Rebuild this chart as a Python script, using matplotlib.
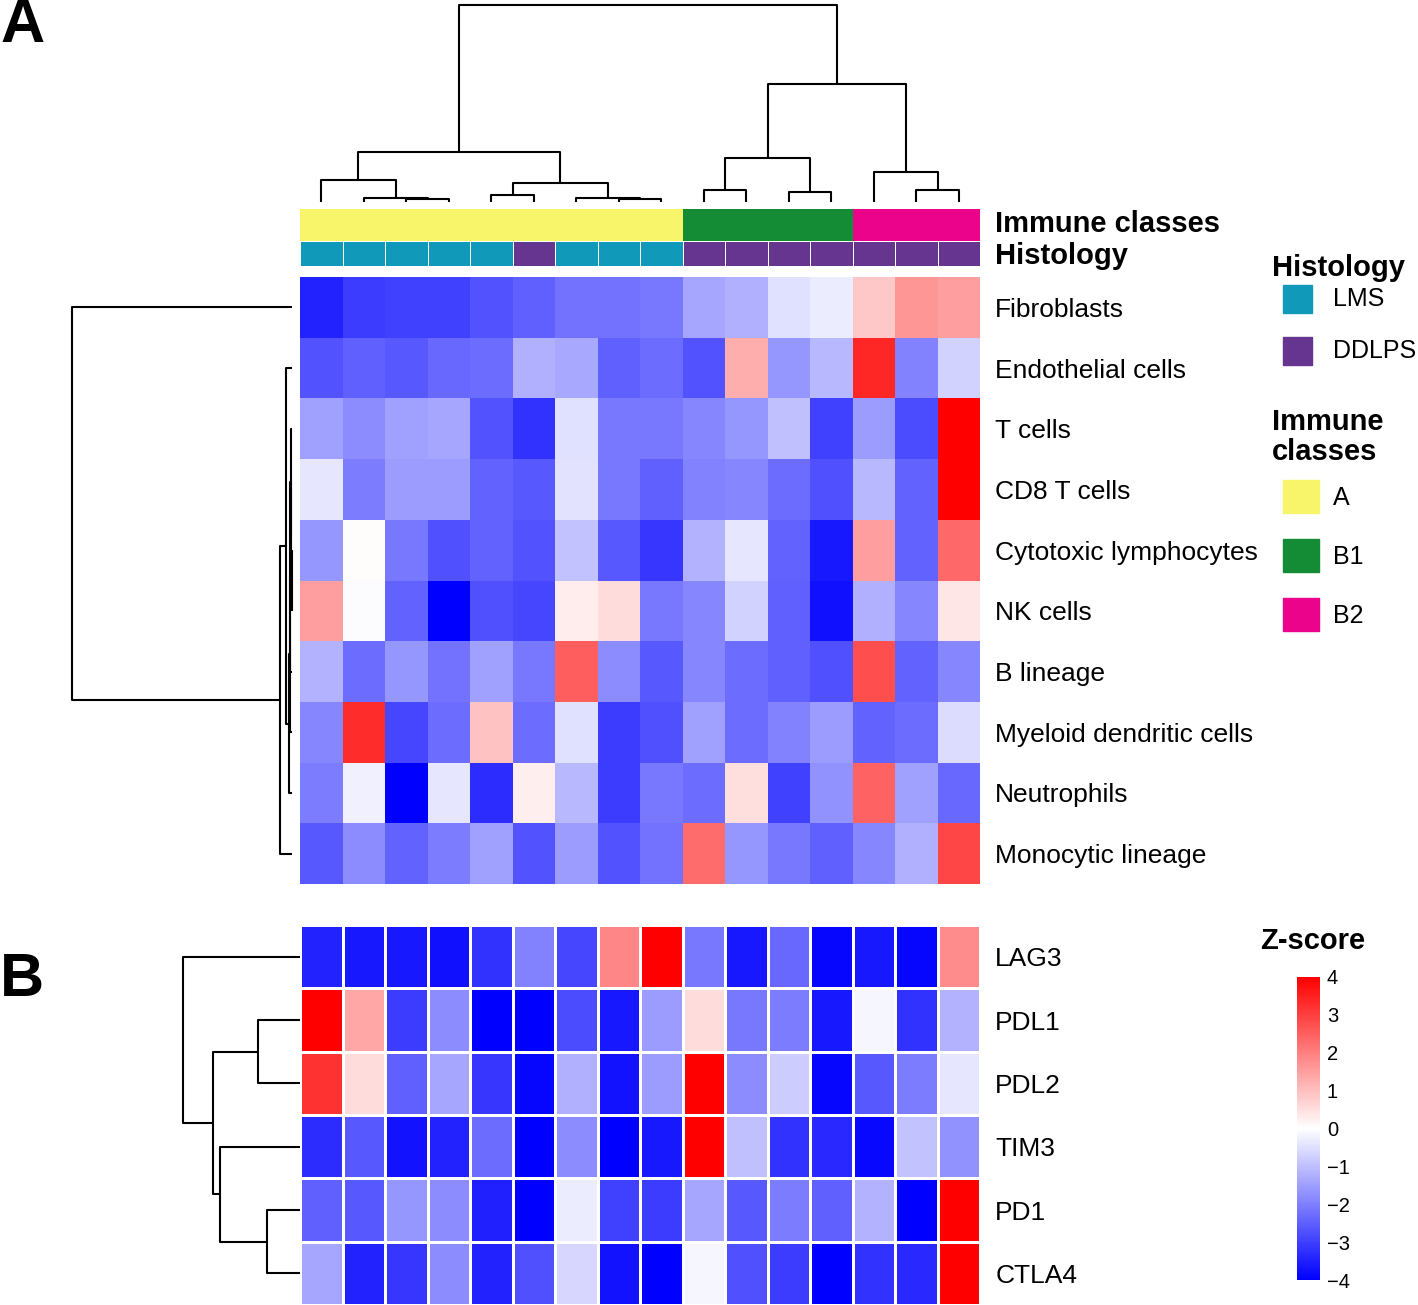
import numpy as np
import matplotlib
matplotlib.use("Agg")
import matplotlib.pyplot as plt
from matplotlib.colors import LinearSegmentedColormap, ListedColormap
from matplotlib.patches import Rectangle

plt.rcParams['font.family'] = ['Liberation Sans', 'DejaVu Sans']

W, H = 1418, 1305

# ---- data -------------------------------------------------------------
cell_types = ["Fibroblasts", "Endothelial cells", "T cells", "CD8 T cells",
              "Cytotoxic lymphocytes", "NK cells", "B lineage",
              "Myeloid dendritic cells", "Neutrophils", "Monocytic lineage"]
checkpoints = ["LAG3", "PDL1", "PDL2", "TIM3", "PD1", "CTLA4"]

immune_class = ["A"] * 9 + ["B1"] * 4 + ["B2"] * 3
histology = ["LMS"] * 5 + ["DDLPS"] + ["LMS"] * 3 + ["DDLPS"] * 7

hist_levels = ["LMS", "DDLPS"]
hist_colors = ["#1199B9", "#66358F"]
immune_levels = ["A", "B1", "B2"]
immune_colors = ["#F8F56A", "#148C36", "#EB048B"]

z_cells = np.array([
    [-3.45, -3.05, -3.0, -3.0, -2.7, -2.5, -2.2, -2.2, -2.1, -1.4, -1.25, -0.5, -0.3, 0.85, 1.65, 1.5],
    [-2.7, -2.5, -2.6, -2.35, -2.3, -1.25, -1.35, -2.5, -2.3, -2.7, 1.25, -1.65, -1.1, 3.4, -1.95, -0.7],
    [-1.5, -1.8, -1.5, -1.4, -2.7, -3.2, -0.5, -2.1, -2.1, -1.9, -1.65, -1.0, -3.0, -1.55, -2.8, 4.0],
    [-0.4, -2.05, -1.55, -1.55, -2.45, -2.6, -0.45, -2.1, -2.5, -1.95, -1.9, -2.3, -2.75, -1.1, -2.45, 4.0],
    [-1.65, 0.05, -2.1, -2.75, -2.45, -2.7, -0.95, -2.6, -3.15, -1.2, -0.4, -2.45, -3.6, 1.5, -2.45, 2.35],
    [1.5, -0.05, -2.45, -4.0, -2.75, -2.9, 0.3, 0.55, -2.1, -1.9, -0.7, -2.5, -3.75, -1.25, -1.9, 0.4],
    [-1.2, -2.3, -1.65, -2.2, -1.5, -2.1, 2.5, -1.8, -2.6, -1.9, -2.3, -2.5, -2.75, 2.75, -2.45, -1.9],
    [-1.9, 3.3, -2.9, -2.3, 0.95, -2.3, -0.5, -3.05, -2.75, -1.5, -2.3, -1.95, -1.55, -2.45, -2.3, -0.55],
    [-2.05, -0.25, -4.0, -0.4, -3.3, 0.25, -1.1, -3.05, -2.1, -2.3, 0.5, -3.0, -1.7, 2.45, -1.5, -2.35],
    [-2.6, -1.8, -2.45, -2.05, -1.5, -2.7, -1.55, -2.7, -2.2, 2.3, -1.65, -2.1, -2.5, -1.9, -1.25, 2.9],
])

z_genes = np.array([
    [-3.45, -3.6, -3.6, -3.75, -3.2, -1.95, -2.9, 1.9, 4.0, -2.1, -3.6, -2.35, -3.9, -3.6, -3.9, 1.8],
    [4.0, 1.4, -3.05, -1.8, -4.0, -4.0, -2.8, -3.6, -1.55, 0.55, -2.1, -2.05, -3.6, -0.15, -3.2, -1.2],
    [3.2, 0.55, -2.5, -1.4, -3.15, -3.9, -1.25, -3.7, -1.55, 4.0, -1.8, -0.8, -3.9, -2.6, -2.05, -0.4],
    [-3.3, -2.6, -3.7, -3.45, -2.3, -4.0, -1.8, -4.0, -3.6, 4.0, -1.0, -3.2, -3.35, -3.85, -0.95, -1.7],
    [-2.5, -2.6, -1.65, -1.8, -3.5, -4.0, -0.3, -3.0, -3.05, -1.4, -2.6, -2.05, -2.5, -1.2, -4.0, 4.0],
    [-1.4, -3.45, -3.15, -1.8, -3.45, -2.75, -0.65, -3.7, -4.0, -0.15, -2.75, -3.05, -4.0, -3.2, -3.35, 4.0],
])

# merges (child a, child b, height), new clusters numbered n, n+1, ...
col_merges = [(2, 3, 3), (1, 16, 4), (0, 17, 22), (4, 5, 7), (7, 8, 3),
              (6, 20, 4), (19, 21, 19), (18, 22, 50), (9, 10, 12), (11, 12, 10),
              (24, 25, 44), (14, 15, 12), (13, 27, 30), (26, 28, 118), (23, 29, 197)]
cell_merges = [(4, 5, 0.5), (3, 10, 1), (2, 11, 1.5), (12, 6, 2), (13, 7, 2.5),
               (14, 8, 3), (1, 15, 6), (16, 9, 12), (0, 17, 220)]
gene_merges = [(1, 2, 42), (4, 5, 33), (3, 7, 80), (6, 8, 87), (0, 9, 117)]


def dendro_segments(n, merges):
    pos = {i: float(i) for i in range(n)}
    hgt = {i: 0.0 for i in range(n)}
    segs = []
    for k, (a, b, h) in enumerate(merges):
        segs.append(([pos[a], pos[a], pos[b], pos[b]], [hgt[a], h, h, hgt[b]]))
        pos[n + k] = (pos[a] + pos[b]) / 2
        hgt[n + k] = h
    return segs


def px_axes(fig, x0, y0, x1, y1):
    return fig.add_axes([x0 / W, 1 - y1 / H, (x1 - x0) / W, (y1 - y0) / H])


def clean(ax):
    for s in ax.spines.values():
        s.set_visible(False)
    ax.set_xticks([])
    ax.set_yticks([])


fig = plt.figure(figsize=(W / 100, H / 100), dpi=100)
cmap = LinearSegmentedColormap.from_list("bwr_z", ["#0000FF", "#FFFFFF", "#FF0000"])
ncol = len(immune_class)

# ---- column dendrogram ----
ax = px_axes(fig, 300, 5, 980, 202)
for xs, ys in dendro_segments(ncol, col_merges):
    ax.plot(xs, ys, color="black", lw=1.5, clip_on=False, solid_capstyle="butt")
ax.set_xlim(-0.5, ncol - 0.5)
ax.set_ylim(0, 197)
clean(ax)

# ---- annotation bars ----
ax = px_axes(fig, 300, 209, 980, 241)
ax.pcolormesh(np.array([[immune_levels.index(v) for v in immune_class]]),
              cmap=ListedColormap(immune_colors), vmin=-0.5, vmax=2.5)
clean(ax)
ax.set_yticks([0.62])
ax.set_yticklabels(["Immune classes"], fontsize=21, fontweight="bold")
ax.yaxis.tick_right()
ax.tick_params(length=0, pad=11)

ax = px_axes(fig, 300, 241, 980, 266)
ax.pcolormesh(np.array([[hist_levels.index(v) for v in histology]]),
              cmap=ListedColormap(hist_colors), vmin=-0.5, vmax=1.5,
              edgecolors="white", linewidth=0.5)
clean(ax)
ax.set_yticks([0.5])
ax.set_yticklabels(["Histology"], fontsize=21, fontweight="bold")
ax.yaxis.tick_right()
ax.tick_params(length=0, pad=11)

# ---- heatmap A ----
ax = px_axes(fig, 300, 277, 980, 884)
ax.pcolormesh(z_cells, cmap=cmap, vmin=-4, vmax=4)
ax.set_ylim(len(cell_types), 0)
clean(ax)
ax.set_yticks(np.arange(len(cell_types)) + 0.5)
ax.set_yticklabels(cell_types, fontsize=19)
ax.yaxis.tick_right()
ax.tick_params(length=0, pad=11)

ax = px_axes(fig, 72, 277, 292, 884)
for xs, ys in dendro_segments(len(cell_types), cell_merges):
    ax.plot(ys, xs, color="black", lw=1.5, clip_on=False, solid_capstyle="butt")
ax.set_ylim(len(cell_types) - 0.5, -0.5)
ax.set_xlim(220, 0)
clean(ax)

# ---- heatmap B ----
ax = px_axes(fig, 300, 925, 980, 1305)
mesh = ax.pcolormesh(z_genes, cmap=cmap, vmin=-4, vmax=4,
                     edgecolors="white", linewidth=2)
ax.set_ylim(len(checkpoints), 0)
clean(ax)
ax.set_yticks(np.arange(len(checkpoints)) + 0.5)
ax.set_yticklabels(checkpoints, fontsize=19)
ax.yaxis.tick_right()
ax.tick_params(length=0, pad=11)

ax = px_axes(fig, 183, 925, 300, 1305)
for xs, ys in dendro_segments(len(checkpoints), gene_merges):
    ax.plot(ys, xs, color="black", lw=1.5, clip_on=False, solid_capstyle="butt")
ax.set_ylim(len(checkpoints) - 0.5, -0.5)
ax.set_xlim(117, 0)
clean(ax)

# ---- colorbar ----
cax = px_axes(fig, 1297, 977, 1320, 1280)
cb = fig.colorbar(mesh, cax=cax, ticks=range(-4, 5))
cb.outline.set_visible(False)
cax.tick_params(length=0, labelsize=14.5, pad=5)
fig.text(1260 / W, 1 - 941 / H, "Z-score", fontsize=21, fontweight="bold",
         ha="left", va="center")

# ---- legends ----
lg = fig.add_axes([0, 0, 1, 1], zorder=-1)
lg.set_xlim(0, W)
lg.set_ylim(H, 0)
lg.axis("off")
lg.text(1272, 268, "Histology", fontsize=21, fontweight="bold", va="center")
for i, (lab, col) in enumerate(zip(hist_levels, hist_colors)):
    lg.add_patch(Rectangle((1283, 285 + i * 52), 29, 28, color=col))
    lg.text(1333, 299 + i * 52, lab, fontsize=18, va="center")
lg.text(1272, 437, "Immune\nclasses", fontsize=21, fontweight="bold",
        va="center", linespacing=1.1)
for i, (lab, col) in enumerate(zip(immune_levels, immune_colors)):
    lg.add_patch(Rectangle((1283, 480 + i * 59), 36, 33, color=col))
    lg.text(1333, 498 + i * 59, lab, fontsize=18, va="center")

# ---- panel letters ----
fig.text(0.0, 1 + 2 / H, "A", fontsize=44, fontweight="bold", ha="left", va="top")
fig.text(0.0, 1 - 952 / H, "B", fontsize=44, fontweight="bold", ha="left", va="top")

fig.savefig("out.png", dpi=100)
